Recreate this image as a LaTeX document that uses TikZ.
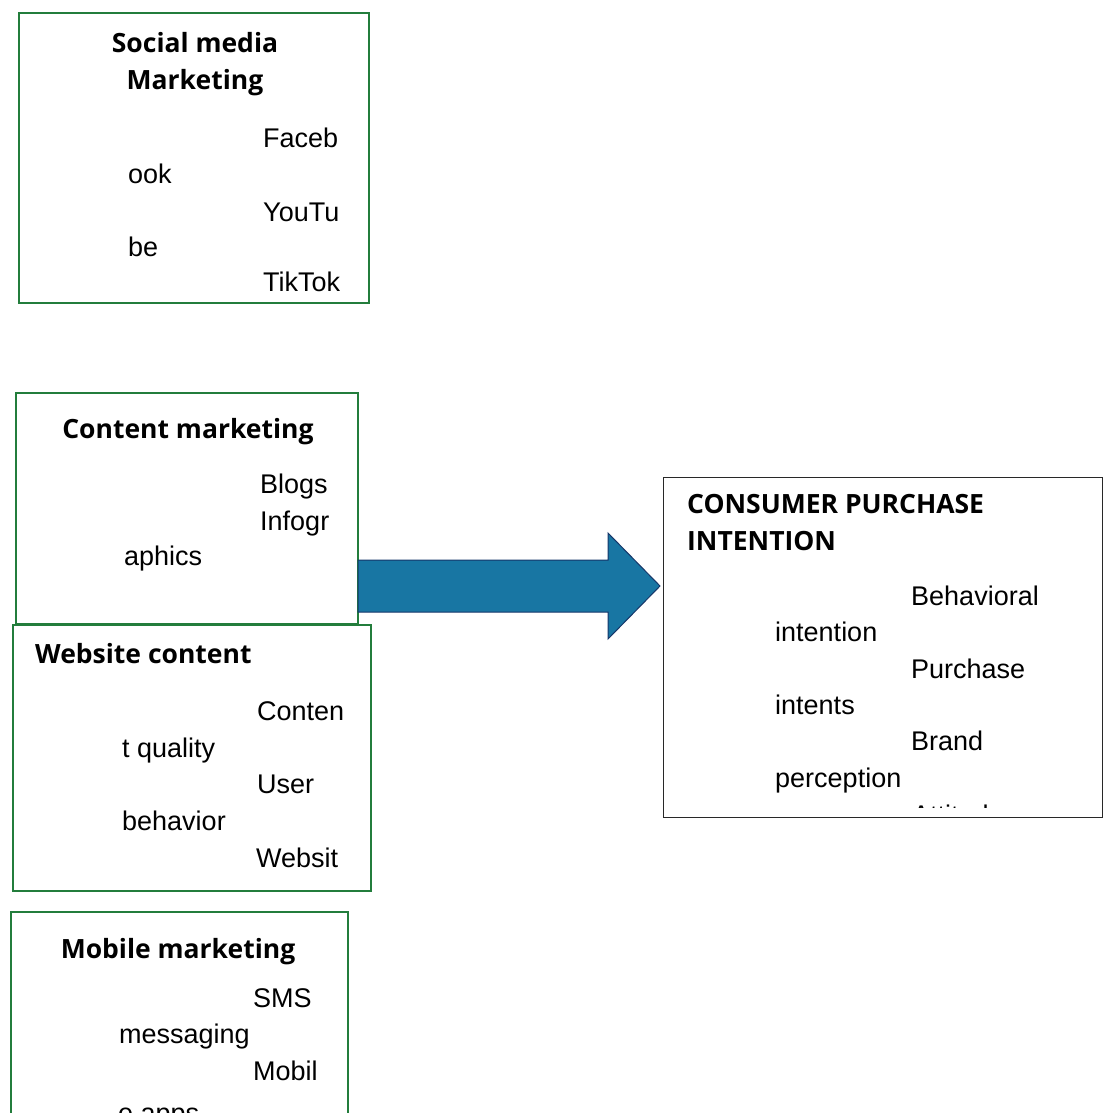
\documentclass[tikz,border=0pt]{standalone}
\usepackage{fontspec}
\setmainfont{Liberation Sans}
\newfontfamily\headfont{Open Sans}
\usetikzlibrary{calc}

\definecolor{boxgreen}{RGB}{35,125,60}
\definecolor{arrowblue}{RGB}{24,118,163}
\definecolor{arrowedge}{RGB}{22,55,105}
\definecolor{framegray}{RGB}{40,40,40}

\begin{document}
\begin{tikzpicture}[x=1pt, y=-1pt,
    gbox/.style={rectangle, draw=boxgreen, line width=2pt, anchor=north west, inner sep=0pt},
    cbox/.style={rectangle, draw=framegray, line width=1.4pt, anchor=north west, inner sep=0pt},
    head/.style={font=\headfont\bfseries\fontsize{26.5}{31}\selectfont, inner sep=0pt, anchor=base},
    item/.style={font=\fontsize{27}{32}\selectfont, inner sep=0pt, anchor=base west},
    bigarrow/.style={fill=arrowblue, draw=arrowedge, line width=1pt, line join=miter},
]
\useasboundingbox[fill=white] (0,0) rectangle (1104,1113);

% boxes
\node[gbox, minimum width=350, minimum height=290] (social)  at (18,12)  {};
\node[gbox, minimum width=342, minimum height=231] (content) at (15,392) {};
\node[gbox, minimum width=358, minimum height=266] (website) at (12,624) {};
\node[gbox, minimum width=337, minimum height=240] (mobile)  at (10,911) {};
\node[cbox, minimum width=439, minimum height=340] (consumer) at (663,477) {};

% social media
\node[head] (sm-t1) at (195,53) {Social media};
\node[head] (sm-t2) at (195,90) {Marketing};
\foreach \txt/\x/\y [count=\i] in {Faceb/263/147, ook/128/183, YouTu/263/221, be/128/256, TikTok/263/291}
  \node[item] (sm\i) at (\x,\y) {\txt};

% content marketing
\node[head] (cm-t) at (188,438) {Content marketing};
\foreach \txt/\x/\y [count=\i] in {Blogs/260/493, Infogr/260/530, aphics/124/565}
  \node[item] (cm\i) at (\x,\y) {\txt};

% website content
\node[head, anchor=base west] (wc-t) at (35,663) {Website content};
\foreach \txt/\x/\y [count=\i] in {Conten/257/720, t quality/122/757, User/257/793, behavior/122/830, Websit/256/867}
  \node[item] (wc\i) at (\x,\y) {\txt};

% mobile marketing
\node[head] (mm-t) at (178,958) {Mobile marketing};
\foreach \txt/\x/\y [count=\i] in {SMS/253/1007, messaging/119/1043, Mobil/253/1080, e apps/118/1122}
  \node[item] (mm\i) at (\x,\y) {\txt};

% consumer purchase intention
\node[head, anchor=base west] (ci-t1) at (687,513) {CONSUMER PURCHASE};
\node[head, anchor=base west] (ci-t2) at (687,550) {INTENTION};
\foreach \txt/\x/\y [count=\i] in {Behavioral/911/605, intention/775/641, Purchase/911/678, intents/775/714, Brand/911/750, perception/775/787}
  \node[item] (ci\i) at (\x,\y) {\txt};
\begin{scope}
  \clip (664,478) rectangle (1101,807);
  \node[item] (ci7) at (912,824) {Attitude};
\end{scope}

% block arrow
\coordinate (tail) at (358,586);
\coordinate (tip)  at (660,586);
\draw[bigarrow] ($(tail)+(0,-26)$) -- ($(tip)+(-52,-26)$) -- ($(tip)+(-52,-53)$) -- (tip)
  -- ($(tip)+(-52,53)$) -- ($(tip)+(-52,26)$) -- ($(tail)+(0,26)$) -- cycle;
\end{tikzpicture}
\end{document}
